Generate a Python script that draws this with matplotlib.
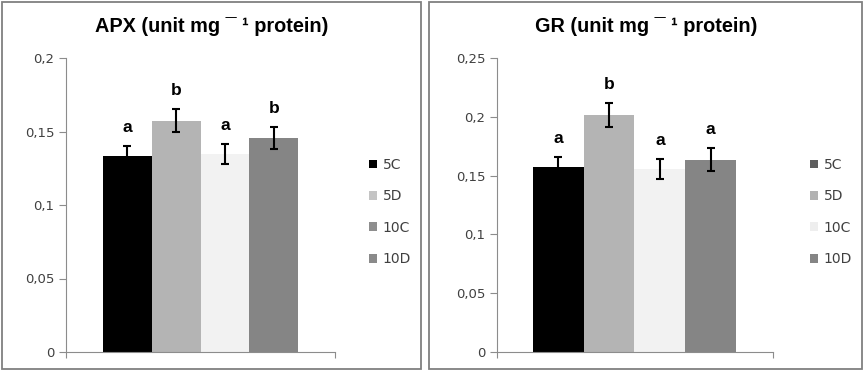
import matplotlib
matplotlib.use("Agg")
import matplotlib.pyplot as plt
from matplotlib.patches import Patch, Rectangle

categories = ["5C", "5D", "10C", "10D"]
apx_values = [0.1335, 0.1574, 0.1347, 0.1454]
apx_errors = [0.0068, 0.0080, 0.0068, 0.0075]
apx_letters = ["a", "b", "a", "b"]
gr_values = [0.1571, 0.2017, 0.1557, 0.1636]
gr_errors = [0.0088, 0.0105, 0.0088, 0.0100]
gr_letters = ["a", "b", "a", "a"]
apx_yticks = [0, 0.05, 0.1, 0.15, 0.2]
apx_yticklabels = ["0", "0,05", "0,1", "0,15", "0,2"]
gr_yticks = [0, 0.05, 0.1, 0.15, 0.2, 0.25]
gr_yticklabels = ["0", "0,05", "0,1", "0,15", "0,2", "0,25"]

bar_colors = ["#000000", "#b4b4b4", "#f2f2f2", "#858585"]
apx_legend_colors = ["#000000", "#c4c4c4", "#8e8e8e", "#8a8a8a"]
gr_legend_colors = ["#5e5e5e", "#b2b2b2", "#eeeeee", "#858585"]

W, H = 864, 371
fig = plt.figure(figsize=(W / 100, H / 100), dpi=100)
fig.patch.set_facecolor("white")

# panel borders
for (x0, x1) in [(2, 421), (429, 862)]:
    fig.patches.append(Rectangle((x0 / W, 1 - 369 / H), (x1 - x0) / W, 367 / H,
                                 transform=fig.transFigure, fill=False,
                                 edgecolor="#808080", linewidth=1.3))

tick_color = "#404040"
spine_color = "#8c8c8c"


def panel(rect, values, errors, letters, yticks, yticklabels, ymax, xlim,
          title, title_x, legend_colors, legend_anchor):
    ax = fig.add_axes(rect)
    x = list(range(len(categories)))
    ax.bar(x, values, width=1.0, color=bar_colors, edgecolor="none", zorder=2)
    ax.errorbar(x, values, yerr=errors, fmt="none", ecolor="black",
                elinewidth=1.5, capsize=3, capthick=1.5, zorder=3)
    for xi, v, e, lab in zip(x, values, errors, letters):
        ax.annotate(lab, (xi, v + e), xytext=(0, 8), textcoords="offset points",
                    ha="center", va="bottom", fontsize=12.5, fontweight="bold",
                    family=["Liberation Sans", "DejaVu Sans"])
    ax.set_ylim(0, ymax)
    ax.set_xlim(*xlim)
    ax.set_yticks(yticks)
    ax.set_yticklabels(yticklabels, fontsize=9.5, color=tick_color)
    ax.set_xticks(list(xlim))
    ax.set_xticklabels([])
    ax.tick_params(axis="y", direction="out", length=5, color=spine_color, width=0.8)
    ax.tick_params(axis="x", direction="out", length=4, color=spine_color, width=0.8)
    for s in ["top", "right"]:
        ax.spines[s].set_visible(False)
    for s in ["left", "bottom"]:
        ax.spines[s].set_color(spine_color)
        ax.spines[s].set_linewidth(0.8)
    ax.patch.set_alpha(0)
    fig.text(title_x, 1 - 26 / H, title, ha="center", va="center",
             fontsize=14.3, fontweight="bold", family=["Liberation Sans", "DejaVu Sans"])
    handles = [Patch(facecolor=c, edgecolor="none", label=l)
               for c, l in zip(legend_colors, categories)]
    leg = fig.legend(handles=handles, loc="upper left", bbox_to_anchor=legend_anchor,
                     bbox_transform=fig.transFigure, frameon=False, fontsize=10,
                     handlelength=0.6, handleheight=0.6, handletextpad=0.4,
                     labelspacing=1.25, borderpad=0)
    for t in leg.get_texts():
        t.set_color(tick_color)
    return ax


panel([66 / W, 1 - 352 / H, 269 / W, 294 / H], apx_values, apx_errors, apx_letters,
      apx_yticks, apx_yticklabels, 0.2, (-1.255, 4.255),
      "APX (unit mg \u00af \u00b9 protein)", 212 / W, apx_legend_colors,
      (362 / W, 1 - 151 / H))

panel([497 / W, 1 - 351.7 / H, 276 / W, 293.4 / H], gr_values, gr_errors, gr_letters,
      gr_yticks, gr_yticklabels, 0.25, (-1.21, 4.23),
      "GR (unit mg \u00af \u00b9 protein)", 646 / W, gr_legend_colors,
      (803 / W, 1 - 151 / H))

fig.savefig("out.png", dpi=100)
